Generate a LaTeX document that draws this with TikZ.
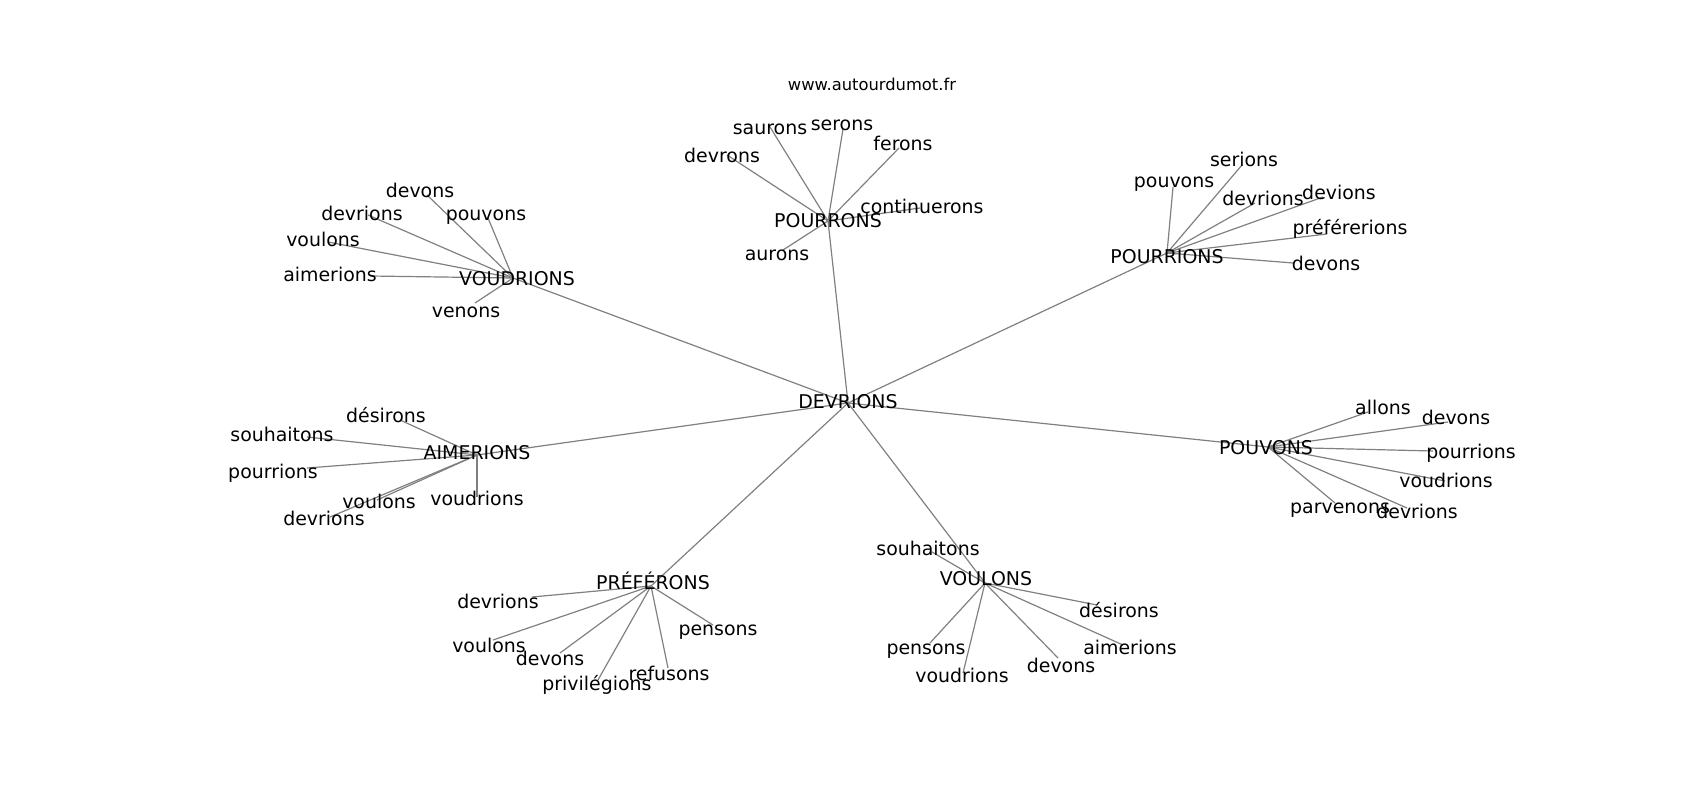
\documentclass[tikz,border=0pt]{standalone}
\usepackage{fontspec}
\setmainfont{DejaVu Sans}
\begin{document}
\begin{tikzpicture}[x=1bp,y=-1bp,
  edge/.style={draw=black!50, line width=1.2bp},
  lab/.style={inner sep=0pt, text height=0.73em, text depth=0pt, anchor=center, yshift=-3.5bp, font=\fontsize{19}{23}\selectfont},
  ttl/.style={inner sep=0pt, text height=0.73em, text depth=0pt, anchor=center, yshift=-3.5bp, font=\fontsize{16.4}{20}\selectfont}]
\useasboundingbox (0,0) rectangle (1700,800);
% graph vertices
\coordinate (DEV) at (848,403);
\coordinate (VDR) at (513,278);
\coordinate (PRR) at (828,221);
\coordinate (PRI) at (1167,253);
\coordinate (PVS) at (1268,447);
\coordinate (AIM) at (477,455);
\coordinate (PRF) at (651,586);
\coordinate (VLS) at (985,583);
% VOUDRIONS leaves
\coordinate (a1) at (427,195);
\coordinate (a2) at (368,215);
\coordinate (a3) at (488,218);
\coordinate (a4) at (328,242);
\coordinate (a5) at (370,276);
\coordinate (a6) at (475,303);
% POURRONS leaves
\coordinate (b1) at (770,127);
\coordinate (b2) at (843,129);
\coordinate (b3) at (899,148);
\coordinate (b4) at (727,155);
\coordinate (b5) at (920,208);
\coordinate (b6) at (783,250);
% POURRIONS leaves
\coordinate (c1) at (1173,187);
\coordinate (c2) at (1242,165);
\coordinate (c3) at (1255,203);
\coordinate (c4) at (1323,197);
\coordinate (c5) at (1327,234);
\coordinate (c6) at (1293,263);
% POUVONS leaves
\coordinate (d1) at (1368,412);
\coordinate (d2) at (1448,422);
\coordinate (d3) at (1433,451);
\coordinate (d4) at (1445,481);
\coordinate (d5) at (1335,503);
\coordinate (d6) at (1407,508);
% AIMERIONS leaves
\coordinate (e1) at (400,420);
\coordinate (e2) at (307,437);
\coordinate (e3) at (307,468);
\coordinate (e4) at (377,500);
\coordinate (e5) at (330,517);
\coordinate (e6) at (477,497);
% PREFERONS leaves
\coordinate (f1) at (532,597);
\coordinate (f2) at (493,640);
\coordinate (f3) at (560,653);
\coordinate (f4) at (598,680);
\coordinate (f5) at (668,668);
\coordinate (f6) at (713,625);
% VOULONS leaves
\coordinate (g1) at (932,552);
\coordinate (g2) at (1097,605);
\coordinate (g3) at (1123,645);
\coordinate (g4) at (1058,658);
\coordinate (g5) at (963,673);
\coordinate (g6) at (930,643);
% edges
\foreach \h in {VDR,PRR,PRI,PVS,AIM,PRF,VLS} \draw[edge] (DEV) -- (\h);
\foreach \l in {a1,a2,a3,a4,a5,a6} \draw[edge] (VDR) -- (\l);
\foreach \l in {b1,b2,b3,b4,b5,b6} \draw[edge] (PRR) -- (\l);
\foreach \l in {c1,c2,c3,c4,c5,c6} \draw[edge] (PRI) -- (\l);
\foreach \l in {d1,d2,d3,d4,d5,d6} \draw[edge] (PVS) -- (\l);
\foreach \l in {e1,e2,e3,e4,e5,e6} \draw[edge] (AIM) -- (\l);
\foreach \l in {f1,f2,f3,f4,f5,f6} \draw[edge] (PRF) -- (\l);
\foreach \l in {g1,g2,g3,g4,g5,g6} \draw[edge] (VLS) -- (\l);
% labels
\node[ttl] (title) at (872,83) {www.autourdumot.fr};
\node[lab] (tDEV) at (848,401) {DEVRIONS};
\node[lab] (tVDR) at (517,278) {VOUDRIONS};
\node[lab] (tPRR) at (828,220) {POURRONS};
\node[lab] (tPRI) at (1167,256) {POURRIONS};
\node[lab] (tPVS) at (1266,447) {POUVONS};
\node[lab] (tAIM) at (477,452) {AIMERIONS};
\node[lab] (tPRF) at (653,582) {PRÉFÉRONS};
\node[lab] (tVLS) at (986,578) {VOULONS};
\node[lab] (ta1) at (420,190) {devons};
\node[lab] (ta2) at (362,213) {devrions};
\node[lab] (ta3) at (486,213) {pouvons};
\node[lab] (ta4) at (323,239) {voulons};
\node[lab] (ta5) at (330,274) {aimerions};
\node[lab] (ta6) at (466,310) {venons};
\node[lab] (tb1) at (770,127) {saurons};
\node[lab] (tb2) at (842,123) {serons};
\node[lab] (tb3) at (903,143) {ferons};
\node[lab] (tb4) at (722,155) {devrons};
\node[lab] (tb5) at (922,206) {continuerons};
\node[lab] (tb6) at (777,253) {aurons};
\node[lab] (tc1) at (1174,180) {pouvons};
\node[lab] (tc2) at (1244,159) {serions};
\node[lab] (tc3) at (1263,198) {devrions};
\node[lab] (tc4) at (1339,192) {devions};
\node[lab] (tc5) at (1350,227) {préférerions};
\node[lab] (tc6) at (1326,263) {devons};
\node[lab] (td1) at (1383,407) {allons};
\node[lab] (td2) at (1456,417) {devons};
\node[lab] (td3) at (1471,451) {pourrions};
\node[lab] (td4) at (1446,480) {voudrions};
\node[lab] (td5) at (1340,506) {parvenons};
\node[lab] (td6) at (1417,511) {devrions};
\node[lab] (te1) at (386,415) {désirons};
\node[lab] (te2) at (282,434) {souhaitons};
\node[lab] (te3) at (273,471) {pourrions};
\node[lab] (te4) at (379,501) {voulons};
\node[lab] (te5) at (324,518) {devrions};
\node[lab] (te6) at (477,498) {voudrions};
\node[lab] (tf1) at (498,601) {devrions};
\node[lab] (tf2) at (489,645) {voulons};
\node[lab] (tf3) at (550,658) {devons};
\node[lab] (tf4) at (597,683) {privilégions};
\node[lab] (tf5) at (669,673) {refusons};
\node[lab] (tf6) at (718,628) {pensons};
\node[lab] (tg1) at (928,548) {souhaitons};
\node[lab] (tg2) at (1119,610) {désirons};
\node[lab] (tg3) at (1130,647) {aimerions};
\node[lab] (tg4) at (1061,665) {devons};
\node[lab] (tg5) at (962,675) {voudrions};
\node[lab] (tg6) at (926,647) {pensons};
\end{tikzpicture}
\end{document}
